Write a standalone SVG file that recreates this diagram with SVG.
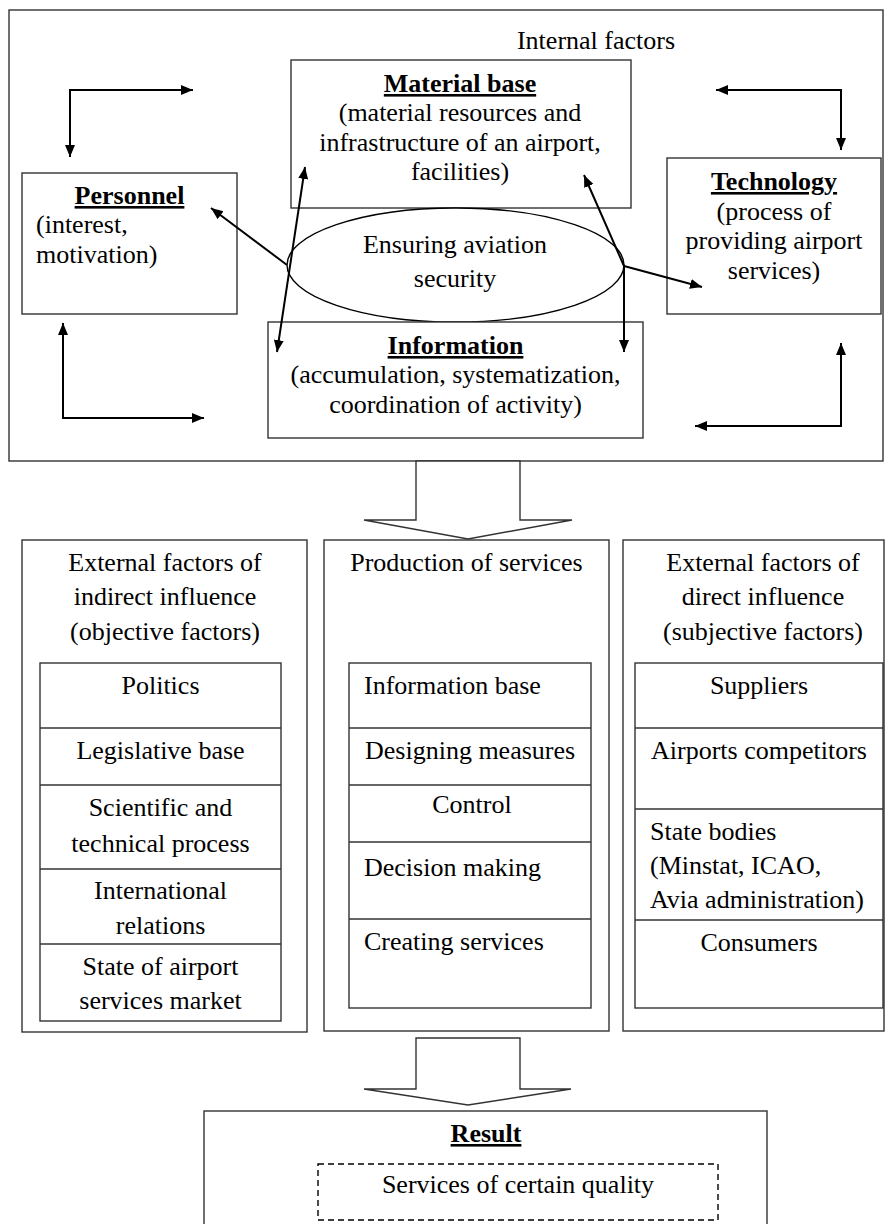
<svg xmlns="http://www.w3.org/2000/svg" width="885" height="1224" viewBox="0 0 885 1224">
<style>
text{font-family:"Liberation Serif","Times New Roman",serif;font-size:26px;fill:#000}
.c{text-anchor:middle}
.b{font-weight:bold;text-decoration:underline}
.box{fill:none;stroke:#333;stroke-width:1.4}
.wbox{fill:#fff;stroke:#333;stroke-width:1.4}
.arr{fill:none;stroke:#000;stroke-width:2;marker-start:url(#ah);marker-end:url(#ah)}
.one{fill:none;stroke:#000;stroke-width:2;marker-end:url(#ah)}
.dash{fill:none;stroke:#000;stroke-width:1.4;stroke-dasharray:6 4}
</style>
<defs>
<marker id="ah" markerUnits="userSpaceOnUse" markerWidth="14" markerHeight="12" refX="12" refY="5" orient="auto-start-reverse">
<path d="M0,0 L12,5 L0,10 z" fill="#000"/>
</marker>
</defs>
<rect width="885" height="1224" fill="#fff"/>

<g id="internal">
<rect class="box" x="9" y="10" width="874" height="451"/>
<text x="596" y="49" class="c">Internal factors</text>
</g>

<g id="material">
<rect class="box" x="291" y="60" width="340" height="148"/>
<text x="460" y="92" class="c b">Material base</text>
<text x="460" y="121" class="c">(material resources and</text>
<text x="460" y="151" class="c">infrastructure of an airport,</text>
<text x="460" y="180" class="c">facilities)</text>
</g>

<g id="personnel">
<rect class="box" x="22" y="173" width="215" height="141"/>
<text x="129.5" y="204" class="c b">Personnel</text>
<text x="36" y="233">(interest,</text>
<text x="36" y="263">motivation)</text>
</g>

<g id="technology">
<rect class="box" x="667" y="158" width="214" height="156"/>
<text x="774" y="190" class="c b">Technology</text>
<text x="774" y="220" class="c">(process of</text>
<text x="774" y="249" class="c">providing airport</text>
<text x="774" y="279" class="c">services)</text>
</g>

<g id="security">
<ellipse cx="455.5" cy="265" rx="168.5" ry="57" fill="#fff" stroke="#000" stroke-width="1.4"/>
<text x="455" y="253" class="c">Ensuring aviation</text>
<text x="455" y="287" class="c">security</text>
</g>

<g id="information">
<rect class="wbox" x="268" y="322" width="375" height="116"/>
<text x="455.5" y="354" class="c b">Information</text>
<text x="455.5" y="383" class="c">(accumulation, systematization,</text>
<text x="455.5" y="413" class="c">coordination of activity)</text>
</g>

<g id="connectors">
<path class="arr" d="M193,90 H70 V157"/>
<path class="arr" d="M63,323 V418 H204"/>
<path class="arr" d="M716,90 H841 V150"/>
<path class="arr" d="M841,343 V426 H695"/>
<path class="one" d="M287,265 L211,208"/>
<path class="arr" d="M305,167 L277,352"/>
<path class="arr" d="M584,175 L624,266 L624,352"/>
<path class="one" d="M624,266 L702,287"/>
<polygon class="wbox" points="416,461 416,520 364,520 468,539 572,520 520,520 520,461"/>
<polygon class="wbox" points="416,1038 520,1038 520,1089 571,1089 468,1105 364,1089 416,1089"/>
</g>

<g id="indirect">
<rect class="box" x="22" y="540" width="285" height="492"/>
<text x="165" y="571" class="c">External factors of</text>
<text x="165" y="605" class="c">indirect influence</text>
<text x="165" y="640" class="c">(objective factors)</text>
<rect class="box" x="40" y="663" width="241" height="358"/>
<line class="box" x1="40" y1="728" x2="281" y2="728"/>
<line class="box" x1="40" y1="785" x2="281" y2="785"/>
<line class="box" x1="40" y1="869" x2="281" y2="869"/>
<line class="box" x1="40" y1="944" x2="281" y2="944"/>
<text x="160.5" y="694" class="c">Politics</text>
<text x="160.5" y="759" class="c">Legislative base</text>
<text x="160.5" y="816" class="c">Scientific and</text>
<text x="160.5" y="852" class="c">technical process</text>
<text x="160.5" y="899" class="c">International</text>
<text x="160.5" y="934" class="c">relations</text>
<text x="160.5" y="975" class="c">State of airport</text>
<text x="160.5" y="1009" class="c">services market</text>
</g>

<g id="production">
<rect class="box" x="324" y="540" width="285" height="491"/>
<text x="466.5" y="571" class="c">Production of services</text>
<rect class="box" x="349" y="663" width="242" height="345"/>
<line class="box" x1="349" y1="728" x2="591" y2="728"/>
<line class="box" x1="349" y1="785" x2="591" y2="785"/>
<line class="box" x1="349" y1="842" x2="591" y2="842"/>
<line class="box" x1="349" y1="919" x2="591" y2="919"/>
<text x="364" y="694">Information base</text>
<text x="365" y="759">Designing measures</text>
<text x="472" y="813" class="c">Control</text>
<text x="364" y="876">Decision making</text>
<text x="364" y="950">Creating services</text>
</g>

<g id="direct">
<rect class="box" x="623" y="540" width="261" height="491"/>
<text x="763" y="571" class="c">External factors of</text>
<text x="763" y="605" class="c">direct influence</text>
<text x="763" y="640" class="c">(subjective factors)</text>
<rect class="box" x="635" y="663" width="248" height="345"/>
<line class="box" x1="635" y1="728" x2="883" y2="728"/>
<line class="box" x1="635" y1="809" x2="883" y2="809"/>
<line class="box" x1="635" y1="920" x2="883" y2="920"/>
<text x="759" y="694" class="c">Suppliers</text>
<text x="759" y="759" class="c">Airports competitors</text>
<text x="650" y="840">State bodies</text>
<text x="650" y="874">(Minstat, ICAO,</text>
<text x="650" y="908">Avia administration)</text>
<text x="759" y="951" class="c">Consumers</text>
</g>

<g id="result">
<rect class="box" x="204" y="1111" width="563" height="125"/>
<text x="486" y="1142" class="c b">Result</text>
<rect class="dash" x="318" y="1164" width="400" height="56"/>
<text x="518" y="1193" class="c">Services of certain quality</text>
</g>
</svg>
